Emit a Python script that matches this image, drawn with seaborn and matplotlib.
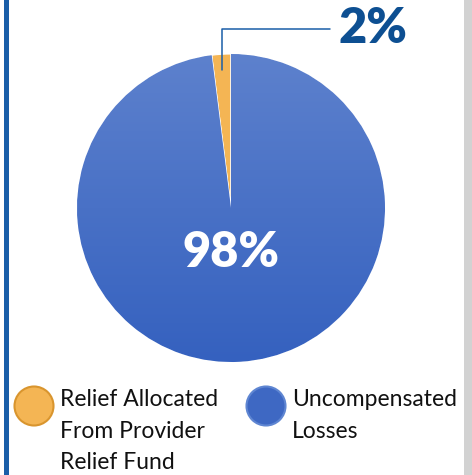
import numpy as np
import matplotlib
matplotlib.use("Agg")
import matplotlib.pyplot as plt
import matplotlib.patches as mpatches
from matplotlib.colors import LinearSegmentedColormap
import seaborn as sns

sns.set_theme(style="white")
plt.rcParams["font.family"] = ["Lato", "DejaVu Sans"]

labels = ["Relief Allocated\nFrom Provider\nRelief Fund", "Uncompensated\nLosses"]
shares = [2, 98]
pct_text = ["2%", "98%"]

ORANGE = "#f4b554"
BLUE = "#4a72c6"
DARK = "#0d4f92"
W, H = 472, 475

fig = plt.figure(figsize=(W / 100, H / 100), dpi=100)
fig.patch.set_facecolor("white")

# frame bars
fig.add_artist(mpatches.Rectangle((4 / W, 0), 5 / W, 1, transform=fig.transFigure,
                                  color="#1a5ea8", lw=0))
fig.add_artist(mpatches.Rectangle((464 / W, 0), 8 / W, 1, transform=fig.transFigure,
                                  color="#d2d2d2", lw=0))

ax = fig.add_axes([(231 - 154) / W, (H - 362) / H, 308 / W, 308 / H])
wedges, _ = ax.pie(shares, colors=[ORANGE, BLUE], startangle=90, counterclock=True,
                   wedgeprops=dict(edgecolor="white", linewidth=0.8))
ax.set_xlim(-1, 1)
ax.set_ylim(-1, 1)
ax.set_aspect("equal")
ax.axis("off")

# vertical gradient on the big slice
cmap = LinearSegmentedColormap.from_list("g", ["#3561bf", "#5d81cd"])
grad = np.linspace(0, 1, 256).reshape(-1, 1)
img = ax.imshow(grad, extent=[-1, 1, -1, 1], origin="lower", cmap=cmap,
                aspect="auto", zorder=wedges[1].get_zorder() + 0.1)
img.set_clip_path(wedges[1])

# leader line for small slice
w0 = wedges[0]
mid = np.deg2rad((w0.theta1 + w0.theta2) / 2)
x0, y0 = 0.9 * np.cos(mid), 0.9 * np.sin(mid)
ax.plot([x0, x0, 0.643], [y0, 1.162, 1.162], color="#1a5ea8", lw=1.1,
        clip_on=False, zorder=5)
ax.text(0.70, 1.165, pct_text[0], color=DARK, fontsize=35, fontweight="heavy",
        ha="left", va="center", clip_on=False)
ax.text(0, -0.29, pct_text[1], color="white", fontsize=35, fontweight="heavy",
        ha="center", va="center", zorder=6)

# legend
for cx, col, edge, lab in [(34, ORANGE, "#d9952e", labels[0]),
                           (266, "#3e68c3", "#5f86d2", labels[1])]:
    fig.add_artist(mpatches.Ellipse((cx / W, 1 - 406 / H), 39 / W, 39 / H,
                                    transform=fig.transFigure, facecolor=col,
                                    edgecolor=edge, lw=1.5))
fig.text(60 / W, 1 - 389 / H, labels[0], fontsize=16.5, color="#111111",
         ha="left", va="top", linespacing=1.62)
fig.text(292 / W, 1 - 389 / H, labels[1], fontsize=16.5, color="#111111",
         ha="left", va="top", linespacing=1.62)

fig.savefig("out.png", dpi=100)
